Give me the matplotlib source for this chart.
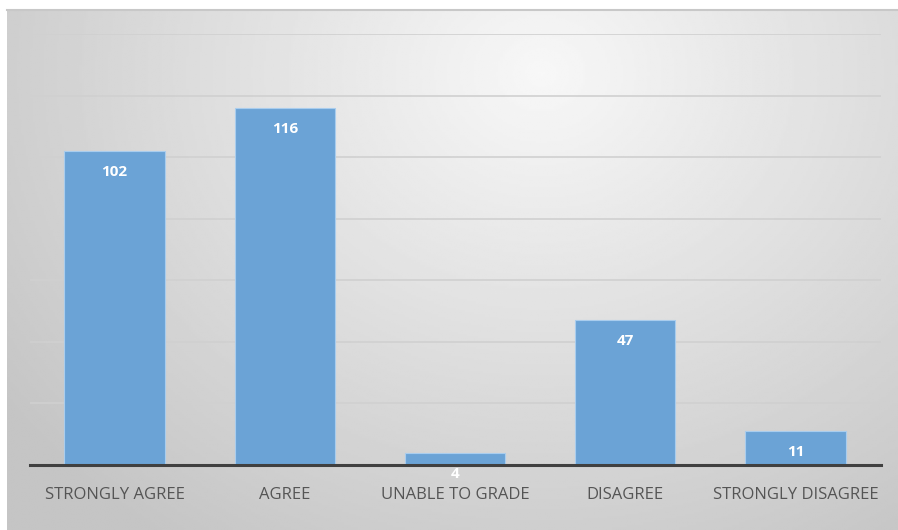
import numpy as np
import matplotlib
matplotlib.use("Agg")
import matplotlib.pyplot as plt

categories = ["STRONGLY AGREE", "AGREE", "UNABLE TO GRADE", "DISAGREE", "STRONGLY DISAGREE"]
counts = [102, 116, 4, 47, 11]
y_ticks = [0, 20, 40, 60, 80, 100, 120, 140]

W, H = 898, 530
fig = plt.figure(figsize=(W / 100, H / 100), dpi=100)
fig.patch.set_facecolor("white")

# gray radial background of the chart area
bg = fig.add_axes([7 / W, 0, 1 - 7 / W, 520 / H], zorder=0)
gx, gy = np.meshgrid(np.linspace(0, 1, 400), np.linspace(0, 1, 240))
r = np.sqrt(((gx - 0.6) / 0.75) ** 2 + ((gy - 0.12) / 1.1) ** 2)
shade = 0.97 - 0.2 * np.clip(r, 0, 1) ** 1.0
bg.imshow(shade, cmap="gray", vmin=0, vmax=1, aspect="auto", extent=(0, 1, 1, 0))
bg.set_axis_off()
fig.add_artist(plt.Line2D([7 / W, 1], [520 / H, 520 / H], color="#c8c8c8", lw=1.5))

ax = fig.add_axes([29.5 / W, 65 / H, 851 / W, 431 / H], zorder=1)
ax.patch.set_alpha(0)
x = np.arange(len(categories))
bars = ax.bar(x, counts, width=0.59, color="#6ba3d6", edgecolor="#a9cdee", linewidth=0.8, zorder=2)

ax.set_xlim(-0.5, len(categories) - 0.5)
ax.set_ylim(0, 140)
ax.set_yticks(y_ticks)
ax.yaxis.grid(True, color="#d0d0d0", lw=1.2, zorder=0)
ax.set_axisbelow(True)
ax.tick_params(axis="y", left=False, labelleft=False)
ax.tick_params(axis="x", length=0, pad=16)
ax.set_xticks(x)
ax.set_xticklabels(categories, fontsize=12, color="#555555", family="Open Sans")
for s in ["top", "right", "left"]:
    ax.spines[s].set_visible(False)
ax.spines["bottom"].set_color("#404040")
ax.spines["bottom"].set_linewidth(2.2)
ax.spines["bottom"].set_zorder(3)

for b, v in zip(bars, counts):
    ax.annotate(str(v), (b.get_x() + b.get_width() / 2, v), xytext=(0, -15),
                textcoords="offset points", ha="center", va="center",
                color="white", fontsize=11, fontweight="bold", family="Open Sans", zorder=4)

fig.savefig("out.png", dpi=100)
